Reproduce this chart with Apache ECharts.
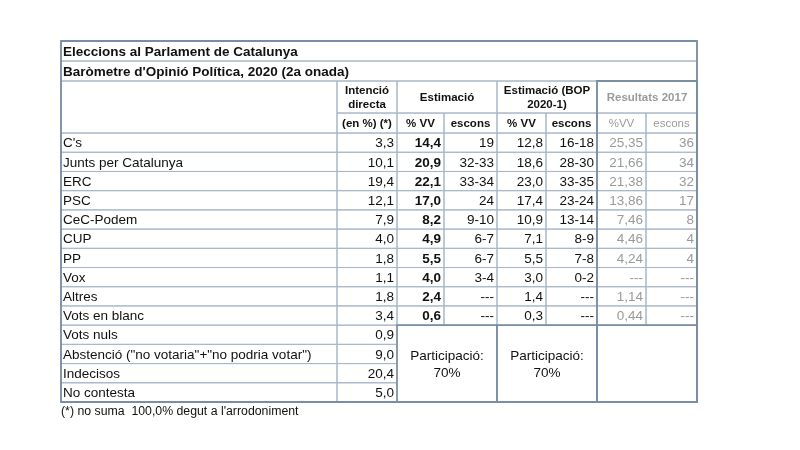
<!DOCTYPE html>
<html><head><meta charset="utf-8">
<script src="https://cdn.jsdelivr.net/npm/echarts@6/dist/echarts.min.js"></script>
<style>html,body{margin:0;padding:0;background:#fff}#c{width:800px;height:450px}</style>
</head><body><div id="c"></div>
<script>
// ---- data ----
const title1 = "Eleccions al Parlament de Catalunya";
const title2 = "Baròmetre d'Opinió Política, 2020 (2a onada)";
const footnote = "(*) no suma  100,0% degut a l'arrodoniment";
const groupHeaders = ["Intenció\ndirecta", "Estimació", "Estimació (BOP\n2020-1)", "Resultats 2017"];
const subHeaders = ["(en %) (*)", "% VV", "escons", "% VV", "escons", "%VV", "escons"];
const parties = ["C's", "Junts per Catalunya", "ERC", "PSC", "CeC-Podem", "CUP", "PP", "Vox", "Altres", "Vots en blanc"];
const otherRows = ["Vots nuls", "Abstenció (\"no votaria\"+\"no podria votar\")", "Indecisos", "No contesta"];
const intencio = [3.3, 10.1, 19.4, 12.1, 7.9, 4.0, 1.8, 1.1, 1.8, 3.4, 0.9, 9.0, 20.4, 5.0];
const estVV = [14.4, 20.9, 22.1, 17.0, 8.2, 4.9, 5.5, 4.0, 2.4, 0.6];
const estEscons = ["19", "32-33", "33-34", "24", "9-10", "6-7", "6-7", "3-4", "---", "---"];
const bopVV = [12.8, 18.6, 23.0, 17.4, 10.9, 7.1, 5.5, 3.0, 1.4, 0.3];
const bopEscons = ["16-18", "28-30", "33-35", "23-24", "13-14", "8-9", "7-8", "0-2", "---", "---"];
const res2017VV = ["25,35", "21,66", "21,38", "13,86", "7,46", "4,46", "4,24", "---", "1,14", "0,44"];
const res2017Escons = ["36", "34", "32", "17", "8", "4", "4", "---", "---", "---"];
const participacio = ["Participació:\n70%", "Participació:\n70%"];

// ---- layout (table units) ----
const colEdges = [0, 276, 336, 383, 436, 485, 536, 585, 636];
const headEdges = [0, 20, 40, 72, 92];
const rowH = 19.2;
const nData = parties.length + otherRows.length;
const rowEdges = headEdges.slice();
for (let i = 1; i <= nData; i++) rowEdges.push(headEdges[4] + rowH * i);
const TOTAL_H = rowEdges[rowEdges.length - 1];

const fmt = v => v.toFixed(1).replace('.', ',');
const DARK = '#111', GRAY = '#9a9a9a';
const cells = [];
function cell(c0, c1, r0, r1, text, o) {
  cells.push(Object.assign({c0, c1, r0, r1, text, align: 'right', bold: false, color: DARK, size: 13.5}, o || {}));
}
// titles
cell(0, 8, 0, 1, title1, {align: 'left', bold: true});
cell(0, 8, 1, 2, title2, {align: 'left', bold: true});
// headers
cell(0, 1, 2, 4, '', {});
cell(1, 2, 2, 3, groupHeaders[0], {align: 'center', bold: true, size: 11.5});
cell(2, 4, 2, 3, groupHeaders[1], {align: 'center', bold: true, size: 11.5});
cell(4, 6, 2, 3, groupHeaders[2], {align: 'center', bold: true, size: 11.5});
cell(6, 8, 2, 3, groupHeaders[3], {align: 'center', bold: true, size: 11.5, color: GRAY});
subHeaders.forEach((h, i) => cell(i + 1, i + 2, 3, 4, h, {align: 'center', bold: i < 5, size: 11.5, color: i < 5 ? DARK : GRAY}));
// data rows
const allLabels = parties.concat(otherRows);
allLabels.forEach((lab, i) => {
  const r = 4 + i;
  cell(0, 1, r, r + 1, lab, {align: 'left'});
  cell(1, 2, r, r + 1, fmt(intencio[i]));
  if (i < parties.length) {
    cell(2, 3, r, r + 1, fmt(estVV[i]), {bold: true});
    cell(3, 4, r, r + 1, estEscons[i]);
    cell(4, 5, r, r + 1, fmt(bopVV[i]));
    cell(5, 6, r, r + 1, bopEscons[i]);
    cell(6, 7, r, r + 1, res2017VV[i], {color: GRAY});
    cell(7, 8, r, r + 1, res2017Escons[i], {color: GRAY});
  }
});
const r0o = 4 + parties.length, r1o = 4 + nData;
cell(2, 4, r0o, r1o, participacio[0], {align: 'center', thick: true});
cell(4, 6, r0o, r1o, participacio[1], {align: 'center', thick: true});
cell(6, 8, r0o, r1o, '', {thick: true});
// frame lines
const frames = [
  {c0: 0, c1: 8, r0: 0, r1: r1o},
  {c0: 6, c1: 8, r0: 2, r1: r1o}
];

const LIGHT_LINE = '#a8b6c8', DARK_LINE = '#7a8da6';
const FONT = '"Liberation Sans", Arial, sans-serif';

const option = {
  animation: false,
  backgroundColor: '#fff',
  title: {
    text: footnote, left: 61, top: 405.5, padding: 0,
    textStyle: {fontSize: 12.3, fontWeight: 'normal', color: '#111', fontFamily: FONT}
  },
  grid: {left: 61, top: 41, width: 636, height: 361},
  xAxis: {type: 'value', min: 0, max: colEdges[colEdges.length - 1], show: false},
  yAxis: {type: 'value', min: 0, max: TOTAL_H, inverse: true, show: false},
  series: [
    {
      type: 'custom', silent: true, clip: false, z: 2,
      data: cells.map(c => [colEdges[c.c0], rowEdges[c.r0], colEdges[c.c1], rowEdges[c.r1]]),
      renderItem: function (params, api) {
        const c = cells[params.dataIndex];
        const p0 = api.coord([api.value(0), api.value(1)]);
        const p1 = api.coord([api.value(2), api.value(3)]);
        const w = p1[0] - p0[0], h = p1[1] - p0[1];
        let tx = p0[0] + w / 2;
        if (c.align === 'left') tx = p0[0] + 2;
        if (c.align === 'right') tx = p1[0] - 3;
        const children = [{
          type: 'rect',
          shape: {x: p0[0], y: p0[1], width: w, height: h},
          style: {fill: 'none', stroke: c.thick ? DARK_LINE : LIGHT_LINE, lineWidth: c.thick ? 1.6 : 1}
        }];
        if (c.text) children.push({
          type: 'text', z2: 5,
          style: {
            text: c.text, x: tx, y: p0[1] + h / 2 + 1,
            align: c.align, verticalAlign: 'middle',
            fontSize: c.size, fontWeight: c.bold ? 'bold' : 'normal', fontFamily: FONT,
            fill: c.color, lineHeight: c.size * 1.25
          }
        });
        return {type: 'group', children};
      }
    },
    {
      type: 'custom', silent: true, clip: false, z: 3,
      data: frames.map(f => [colEdges[f.c0], rowEdges[f.r0], colEdges[f.c1], rowEdges[f.r1]]),
      renderItem: function (params, api) {
        const p0 = api.coord([api.value(0), api.value(1)]);
        const p1 = api.coord([api.value(2), api.value(3)]);
        return {
          type: 'rect',
          shape: {x: p0[0], y: p0[1], width: p1[0] - p0[0], height: p1[1] - p0[1]},
          style: {fill: 'none', stroke: DARK_LINE, lineWidth: 1.8}
        };
      }
    }
  ]
};
echarts.init(document.getElementById('c')).setOption(option);
</script></body></html>
